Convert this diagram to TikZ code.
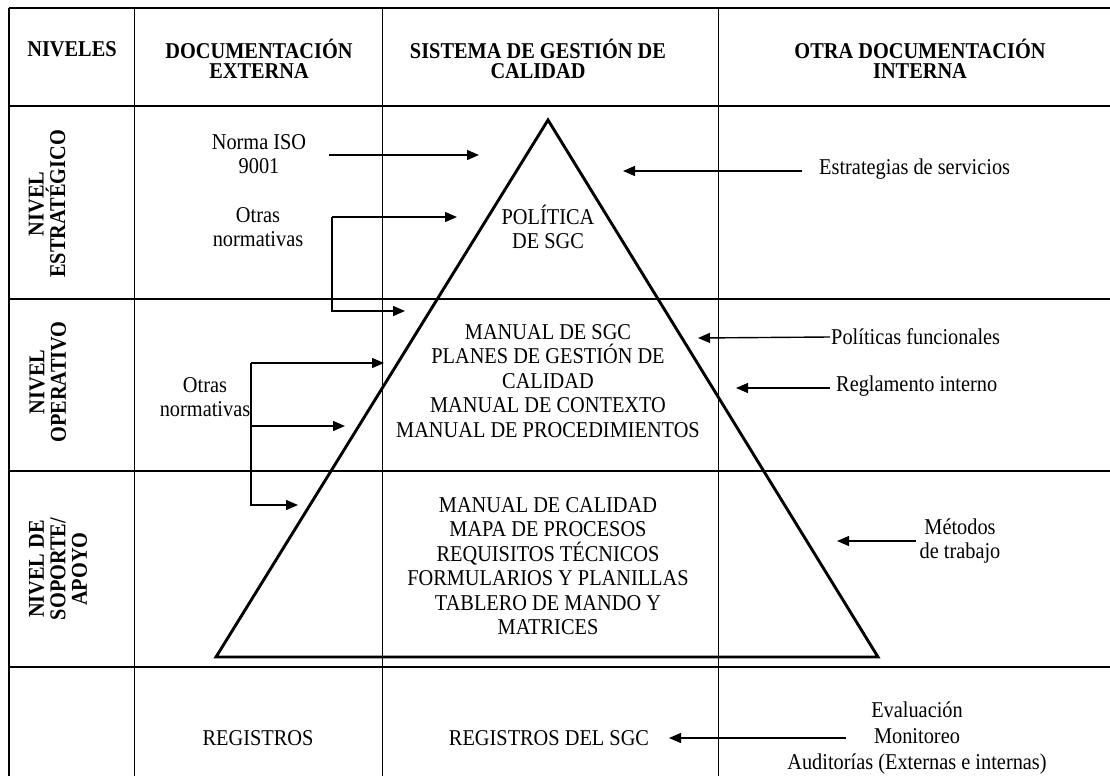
\documentclass[tikz,border=0pt]{standalone}
\usepackage{fontspec}
\setmainfont{Liberation Serif}[FakeStretch=0.9]
\usetikzlibrary{arrows.meta}

\begin{document}
\begin{tikzpicture}[x=1pt,y=-1pt,
  txt/.style={align=center,inner sep=1pt,font=\fontsize{22.6}{24.5}\selectfont},
  hdr/.style={align=center,inner sep=1pt,font=\fontsize{22.6}{20.5}\selectfont\bfseries},
  lvl/.style={align=center,inner sep=1pt,rotate=90,font=\fontsize{22.6}{21.5}\selectfont\bfseries},
  arr/.style={-{Triangle[length=12pt,width=10pt]},line width=1.4pt}]
  \useasboundingbox (0,0) rectangle (1110,776);
  % table grid
  \foreach \y in {8,106,299,471,667} \draw[line width=1.7pt](9,\y)--(1110,\y);
  \foreach \x/\w in {9/1.3,134/1,382/1,718/1} \draw[line width=\w pt](\x,8)--(\x,776);
  % headers
  \node[hdr] (hniv) at (72,49) {NIVELES};
  \node[hdr] (hext) at (259,59) {DOCUMENTACIÓN\\EXTERNA};
  \node[hdr] (hsgc) at (538,59) {SISTEMA DE GESTIÓN DE\\CALIDAD};
  \node[hdr] (hint) at (920,59) {OTRA DOCUMENTACIÓN\\INTERNA};
  \node[lvl] (nest) at (47,204) {NIVEL\\ESTRATÉGICO};
  \node[lvl] (nope) at (48,382) {NIVEL\\OPERATIVO};
  \node[lvl] (nsop) at (58,569) {NIVEL DE\\SOPORTE/\\APOYO};
  % pyramid
  \coordinate (apex) at (548,120);
  \coordinate (bl) at (216,657);
  \coordinate (br) at (878,657);
  \draw[line width=2.9pt](apex)--(br)--(bl)--cycle;
  \node[txt] (pol) at (548,227) {POLÍTICA\\DE SGC};
  \node[txt] (man) at (548,381) {MANUAL DE SGC\\PLANES DE GESTIÓN DE\\CALIDAD\\MANUAL DE CONTEXTO\\MANUAL DE PROCEDIMIENTOS};
  \node[txt] (cal) at (548,566) {MANUAL DE CALIDAD\\MAPA DE PROCESOS\\REQUISITOS TÉCNICOS\\FORMULARIOS Y PLANILLAS\\TABLERO DE MANDO Y\\MATRICES};
  % external documents
  \node[txt] (iso) at (259,154) {Norma ISO\\9001};
  \node[txt] (otrA) at (258,227) {Otras\\normativas};
  \node[txt] (otrB) at (205,397) {Otras\\normativas};
  \coordinate (isoT) at (329,155);
  \coordinate (isoH) at (479,155);
  \draw[arr](isoT)--(isoH);
  \coordinate (brA) at (332,217);
  \coordinate (tA1) at (457,217);
  \coordinate (tA2) at (405,311);
  \draw[arr](brA)--(tA1);
  \draw[arr](brA)|-(tA2);
  \coordinate (brB) at (251,363);
  \coordinate (tB1) at (384,363);
  \coordinate (tB2) at (345,426);
  \coordinate (tB3) at (298,505);
  \draw[arr](brB)--(tB1);
  \draw[arr](brB|-tB2)--(tB2);
  \draw[arr](brB)|-(tB3);
  % internal documents
  \node[txt,anchor=west] (estr) at (818,169) {Estrategias de servicios};
  \coordinate (estrT) at (802,171);
  \coordinate (estrH) at (623,171);
  \draw[arr](estrT)--(estrH);
  \node[txt,anchor=west] (pfun) at (830,337) {Políticas funcionales};
  \coordinate (pfunH) at (698,338);
  \draw[arr](pfun.west)--(pfunH);
  \node[txt,anchor=west] (regl) at (835,386) {Reglamento interno};
  \coordinate (reglT) at (830,388);
  \coordinate (reglH) at (736,388);
  \draw[arr](reglT)--(reglH);
  \node[txt] (met) at (960,541) {Métodos\\de trabajo};
  \coordinate (metT) at (916,541);
  \coordinate (metH) at (837,541);
  \draw[arr](metT)--(metH);
  % records
  \node[txt] (reg) at (258,738) {REGISTROS};
  \node[txt] (regsgc) at (549,738) {REGISTROS DEL SGC};
  \node[txt,font=\fontsize{22.6}{26}\selectfont] (eva) at (917,738) {Evaluación\\Monitoreo\\Auditorías (Externas e internas)};
  \coordinate (evaT) at (846,738);
  \draw[arr](evaT)--(regsgc.east-|669,0);
\end{tikzpicture}
\end{document}
